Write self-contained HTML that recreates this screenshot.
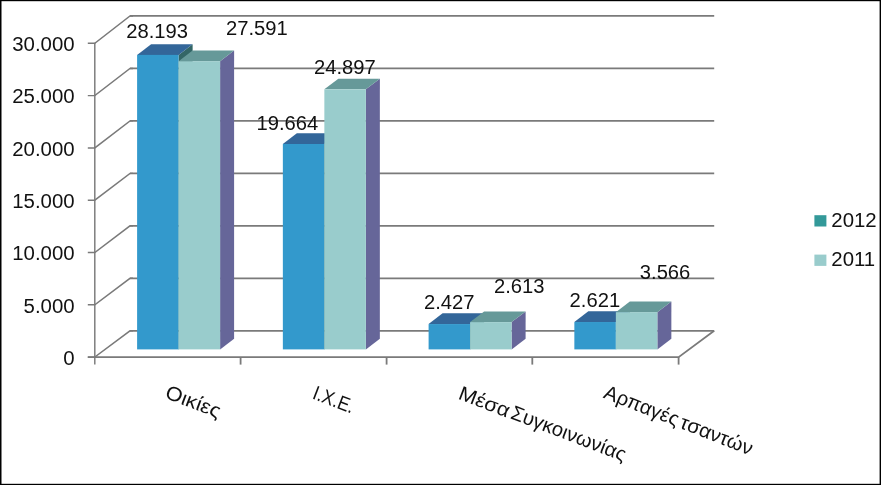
<!DOCTYPE html>
<html><head><meta charset="utf-8"><title>Chart</title>
<style>html,body{margin:0;padding:0;background:#fff;}body{width:881px;height:485px;overflow:hidden;font-family:"Liberation Sans",sans-serif;}</style>
</head><body>
<div style="will-change:transform;width:881px;height:485px;background:#fff">
<svg width="881" height="485" viewBox="0 0 881 485" style="display:block;font-family:'Liberation Sans',sans-serif" fill="#111"><rect x="0" y="0" width="881" height="485" fill="#fff"/>
<polyline points="87.8,357.10 94.8,357.10 130.0,330.80 133.0,330.80" fill="none" stroke="#7a7a7a" stroke-width="1.45"/>
<line x1="130.0" y1="330.80" x2="714.2" y2="330.80" stroke="#7a7a7a" stroke-width="1.8"/>
<polyline points="87.8,304.80 94.8,304.80 130.0,278.32 133.0,278.32" fill="none" stroke="#7a7a7a" stroke-width="1.45"/>
<line x1="130.0" y1="278.32" x2="714.2" y2="278.32" stroke="#7a7a7a" stroke-width="1.8"/>
<polyline points="87.8,252.50 94.8,252.50 130.0,225.84 133.0,225.84" fill="none" stroke="#7a7a7a" stroke-width="1.45"/>
<line x1="130.0" y1="225.84" x2="714.2" y2="225.84" stroke="#7a7a7a" stroke-width="1.8"/>
<polyline points="87.8,200.20 94.8,200.20 130.0,173.36 133.0,173.36" fill="none" stroke="#7a7a7a" stroke-width="1.45"/>
<line x1="130.0" y1="173.36" x2="714.2" y2="173.36" stroke="#7a7a7a" stroke-width="1.8"/>
<polyline points="87.8,147.90 94.8,147.90 130.0,120.88 133.0,120.88" fill="none" stroke="#7a7a7a" stroke-width="1.45"/>
<line x1="130.0" y1="120.88" x2="714.2" y2="120.88" stroke="#7a7a7a" stroke-width="1.8"/>
<polyline points="87.8,95.60 94.8,95.60 130.0,68.40 133.0,68.40" fill="none" stroke="#7a7a7a" stroke-width="1.45"/>
<line x1="130.0" y1="68.40" x2="714.2" y2="68.40" stroke="#7a7a7a" stroke-width="1.8"/>
<polyline points="87.8,43.30 94.8,43.30 130.0,15.92 133.0,15.92" fill="none" stroke="#7a7a7a" stroke-width="1.45"/>
<line x1="130.0" y1="15.92" x2="714.2" y2="15.92" stroke="#7a7a7a" stroke-width="1.8"/>
<line x1="94.8" y1="42.80" x2="94.8" y2="364.6" stroke="#7a7a7a" stroke-width="1.45"/>
<polyline points="87.8,357.1 678.6,357.1 714.2,330.8" fill="none" stroke="#7a7a7a" stroke-width="1.8"/>
<line x1="240.6" y1="357.1" x2="240.6" y2="364.6" stroke="#7a7a7a" stroke-width="1.8"/>
<line x1="386.6" y1="357.1" x2="386.6" y2="364.6" stroke="#7a7a7a" stroke-width="1.8"/>
<line x1="532.3" y1="357.1" x2="532.3" y2="364.6" stroke="#7a7a7a" stroke-width="1.8"/>
<line x1="678.6" y1="357.1" x2="678.6" y2="364.6" stroke="#7a7a7a" stroke-width="1.8"/>
<polygon points="178.60,54.90 192.60,44.20 192.60,338.70 178.60,349.4" fill="#336666"/><polygon points="137.10,54.90 151.10,44.20 192.60,44.20 178.60,54.90" fill="#336699"/><rect x="137.10" y="54.90" width="41.5" height="294.50" fill="#3399cc"/>
<polygon points="220.10,61.19 234.10,50.49 234.10,338.70 220.10,349.4" fill="#666699"/><polygon points="178.60,61.19 192.60,50.49 234.10,50.49 220.10,61.19" fill="#669999"/><rect x="178.60" y="61.19" width="41.5" height="288.21" fill="#99cccc"/>
<polygon points="324.35,143.99 338.35,133.29 338.35,338.70 324.35,349.4" fill="#336666"/><polygon points="282.85,143.99 296.85,133.29 338.35,133.29 324.35,143.99" fill="#336699"/><rect x="282.85" y="143.99" width="41.5" height="205.41" fill="#3399cc"/>
<polygon points="365.85,89.33 379.85,78.63 379.85,338.70 365.85,349.4" fill="#666699"/><polygon points="324.35,89.33 338.35,78.63 379.85,78.63 365.85,89.33" fill="#669999"/><rect x="324.35" y="89.33" width="41.5" height="260.07" fill="#99cccc"/>
<polygon points="470.10,324.05 484.10,313.35 484.10,338.70 470.10,349.4" fill="#336666"/><polygon points="428.60,324.05 442.60,313.35 484.10,313.35 470.10,324.05" fill="#336699"/><rect x="428.60" y="324.05" width="41.5" height="25.35" fill="#3399cc"/>
<polygon points="511.60,322.10 525.60,311.40 525.60,338.70 511.60,349.4" fill="#666699"/><polygon points="470.10,322.10 484.10,311.40 525.60,311.40 511.60,322.10" fill="#669999"/><rect x="470.10" y="322.10" width="41.5" height="27.30" fill="#99cccc"/>
<polygon points="615.85,322.02 629.85,311.32 629.85,338.70 615.85,349.4" fill="#336666"/><polygon points="574.35,322.02 588.35,311.32 629.85,311.32 615.85,322.02" fill="#336699"/><rect x="574.35" y="322.02" width="41.5" height="27.38" fill="#3399cc"/>
<polygon points="657.35,312.15 671.35,301.45 671.35,338.70 657.35,349.4" fill="#666699"/><polygon points="615.85,312.15 629.85,301.45 671.35,301.45 657.35,312.15" fill="#669999"/><rect x="615.85" y="312.15" width="41.5" height="37.25" fill="#99cccc"/>
<rect x="814.4" y="215.2" width="12" height="11.3" fill="#339999"/>
<rect x="814.4" y="254.6" width="12" height="11.3" fill="#99cccc"/>
<text transform="translate(74.6,364.8) scale(1.02,1)" font-size="20" text-anchor="end">0</text>
<text transform="translate(74.6,312.5) scale(1.02,1)" font-size="20" text-anchor="end">5.000</text>
<text transform="translate(74.6,260.2) scale(1.02,1)" font-size="20" text-anchor="end">10.000</text>
<text transform="translate(74.6,207.9) scale(1.02,1)" font-size="20" text-anchor="end">15.000</text>
<text transform="translate(74.6,155.6) scale(1.02,1)" font-size="20" text-anchor="end">20.000</text>
<text transform="translate(74.6,103.3) scale(1.02,1)" font-size="20" text-anchor="end">25.000</text>
<text transform="translate(74.6,51.0) scale(1.02,1)" font-size="20" text-anchor="end">30.000</text>
<text transform="translate(831.3,227.0) scale(1.02,1)" font-size="20" text-anchor="start">2012</text>
<text transform="translate(831.3,266.3) scale(1.02,1)" font-size="20" text-anchor="start">2011</text>
<text transform="translate(126.3,37.7) scale(1.01,1)" font-size="20" text-anchor="start">28.193</text>
<text transform="translate(226,35) scale(1.01,1)" font-size="20" text-anchor="start">27.591</text>
<text transform="translate(256.5,130) scale(1.01,1)" font-size="20" text-anchor="start">19.664</text>
<text transform="translate(314,73.5) scale(1.01,1)" font-size="20" text-anchor="start">24.897</text>
<text transform="translate(424,309) scale(1.01,1)" font-size="20" text-anchor="start">2.427</text>
<text transform="translate(494,293) scale(1.01,1)" font-size="20" text-anchor="start">2.613</text>
<text transform="translate(569.6,307.3) scale(1.01,1)" font-size="20" text-anchor="start">2.621</text>
<text transform="translate(639.8,278.7) scale(1.01,1)" font-size="20" text-anchor="start">3.566</text>
<text transform="translate(164,397.6) rotate(21) scale(1.085,1)" font-size="20" text-anchor="start">Οικίες</text>
<text transform="translate(311.6,398.3) rotate(21) scale(0.87,1)" font-size="20" text-anchor="start">Ι.Χ.Ε.</text>
<text transform="translate(457.2,398.6) rotate(21) scale(1.075,1)" font-size="20" text-anchor="start">Μέσα</text>
<text transform="translate(509.5,417.9) rotate(21) scale(1.015,1)" font-size="20" text-anchor="start">Συγκοινωνίας</text>
<text transform="translate(602.6,397.5) rotate(21.5) scale(1.01,1)" font-size="20" text-anchor="start">Αρπαγές</text>
<text transform="translate(678.4,427.4) rotate(21.5) scale(1.025,1)" font-size="20" text-anchor="start">τσαντών</text>
<rect x="0" y="0" width="881" height="1.2" fill="#000"/>
<rect x="0" y="0" width="1.5" height="485" fill="#000"/>
<rect x="879.6" y="0" width="1.4" height="485" fill="#000"/>
<rect x="0" y="483.8" width="881" height="1.2" fill="#000"/></svg>
</div>
</body></html>
